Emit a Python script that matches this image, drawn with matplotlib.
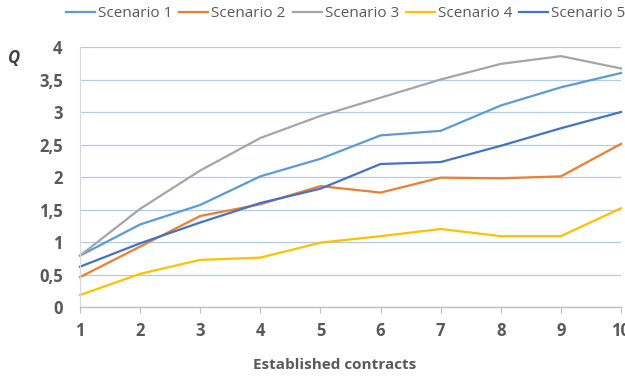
import matplotlib
matplotlib.use('Agg')
import matplotlib.pyplot as plt
import numpy as np

plt.rcParams['font.family'] = ['Open Sans', 'DejaVu Sans']

contracts = [1, 2, 3, 4, 5, 6, 7, 8, 9, 10]
scenario_1 = [0.79, 1.27, 1.57, 2.01, 2.28, 2.64, 2.71, 3.10, 3.38, 3.60]
scenario_2 = [0.46, 0.93, 1.40, 1.58, 1.86, 1.76, 1.99, 1.98, 2.01, 2.51]
scenario_3 = [0.79, 1.51, 2.10, 2.60, 2.94, 3.22, 3.50, 3.74, 3.86, 3.67]
scenario_4 = [0.185, 0.51, 0.725, 0.76, 0.99, 1.09, 1.20, 1.09, 1.09, 1.52]
scenario_5 = [0.62, 0.98, 1.30, 1.60, 1.82, 2.20, 2.23, 2.48, 2.75, 3.00]

series_names = ['Scenario 1', 'Scenario 2', 'Scenario 3', 'Scenario 4', 'Scenario 5']
series_colors = ['#5B9BD5', '#ED7D31', '#A5A5A5', '#FFC000', '#4472C4']

y_ticks = [0, 0.5, 1, 1.5, 2, 2.5, 3, 3.5, 4]
y_tick_labels = ['0', '0,5', '1', '1,5', '2', '2,5', '3', '3,5', '4']

fig = plt.figure(figsize=(6.25, 3.78), dpi=100)
ax = fig.add_axes([80 / 625, 71 / 378, 541 / 625, 260 / 378])

for name, values, color in zip(series_names,
                               [scenario_1, scenario_2, scenario_3, scenario_4, scenario_5],
                               series_colors):
    ax.plot(contracts, values, color=color, linewidth=1.6, label=name,
            solid_joinstyle='round', clip_on=False)

ax.set_xlim(1, 10)
ax.set_ylim(0, 4)
ax.set_xticks(contracts)
ax.set_yticks(y_ticks)
ax.set_yticklabels(y_tick_labels)

ax.grid(axis='y', color='#B4CBE8', linewidth=0.9)
ax.set_axisbelow(True)
for side in ['top', 'right']:
    ax.spines[side].set_visible(False)
ax.spines['left'].set_color('#D9D9D9')
ax.spines['bottom'].set_color('#BFBFBF')
ax.spines['bottom'].set_linewidth(1.0)

ax.tick_params(axis='x', length=4, color='#BFBFBF', pad=7,
               labelsize=12, labelcolor='#595959')
ax.tick_params(axis='y', length=0, pad=12.5,
               labelsize=12, labelcolor='#595959')
for lbl in ax.get_xticklabels() + ax.get_yticklabels():
    lbl.set_fontweight('bold')

ax.set_xlabel('Established contracts', fontsize=11, fontweight='bold',
              color='#595959')
ax.xaxis.set_label_coords(0.47, -0.195)
fig.text(8 / 625, 1 - 58 / 378, 'Q', fontsize=12, fontweight='bold',
         fontstyle='italic', color='#404040', ha='left', va='center')

fig.legend(loc='upper center', bbox_to_anchor=(0.553, 1.02), ncol=5, frameon=False,
           fontsize=11, labelcolor='#595959', handlelength=1.9,
           handletextpad=0.2, columnspacing=0.45)

fig.savefig('out.png', dpi=100)
